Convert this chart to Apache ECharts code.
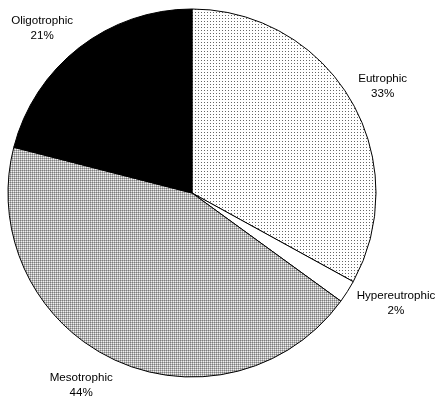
<!DOCTYPE html>
<html>
<head>
<meta charset="utf-8">
<script src="https://cdn.jsdelivr.net/npm/echarts@6/dist/echarts.min.js"></script>
<style>
html,body{margin:0;padding:0;background:#fff;}
#chart{width:437px;height:401px;}
</style>
</head>
<body>
<div id="chart"></div>
<script>
const categories = ['Eutrophic', 'Hypereutrophic', 'Mesotrophic', 'Oligotrophic'];
const percentages = [33, 2, 44, 21];

// label nudges (layout only, in pixels)
const labelNudge = {
  Eutrophic: [-3, 8],
  Hypereutrophic: [14, -10],
  Mesotrophic: [-15, -11],
  Oligotrophic: [-12, 13]
};

function makePattern(cells, size) {
  const c = document.createElement('canvas');
  c.width = size; c.height = size;
  const ctx = c.getContext('2d');
  ctx.fillStyle = '#fff';
  ctx.fillRect(0, 0, size, size);
  cells.forEach(function (p) {
    ctx.fillStyle = p[2];
    ctx.fillRect(p[0], p[1], 1, 1);
  });
  return c;
}
const lightDots = makePattern([[0, 0, '#666666']], 3);
const denseDots = makePattern([[0, 0, '#7c7c7c'], [1, 0, '#b4b4b4'], [0, 1, '#b4b4b4'], [1, 1, '#f0f0f0']], 2);

const fills = [
  { image: lightDots, repeat: 'repeat' },
  '#ffffff',
  { image: denseDots, repeat: 'repeat' },
  '#000000'
];

const chart = echarts.init(document.getElementById('chart'), null, { renderer: 'canvas' });
chart.setOption({
  backgroundColor: '#fff',
  animation: false,
  series: [
    {
      type: 'pie',
      center: [192, 193],
      radius: [0, 184],
      startAngle: 90,
      clockwise: true,
      silent: true,
      label: { show: false },
      labelLine: { show: false },
      itemStyle: { borderColor: '#000', borderWidth: 1 },
      data: categories.map(function (n, i) {
        return { name: n, value: percentages[i], itemStyle: { color: fills[i] } };
      })
    },
    {
      type: 'pie',
      center: [192, 193],
      radius: [0, 444],
      startAngle: 90,
      clockwise: true,
      silent: true,
      z: 3,
      itemStyle: { color: 'rgba(0,0,0,0)', borderWidth: 0 },
      label: {
        show: true,
        position: 'inside',
        formatter: function (p) { return p.name + '\n' + p.value + '%'; },
        fontFamily: 'Liberation Sans, Arial, sans-serif',
        fontSize: 11.6,
        lineHeight: 15,
        color: '#000',
        align: 'center'
      },
      labelLine: { show: false },
      data: categories.map(function (n, i) {
        return { name: n, value: percentages[i], label: { offset: labelNudge[n] } };
      })
    }
  ]
});
</script>
</body>
</html>
